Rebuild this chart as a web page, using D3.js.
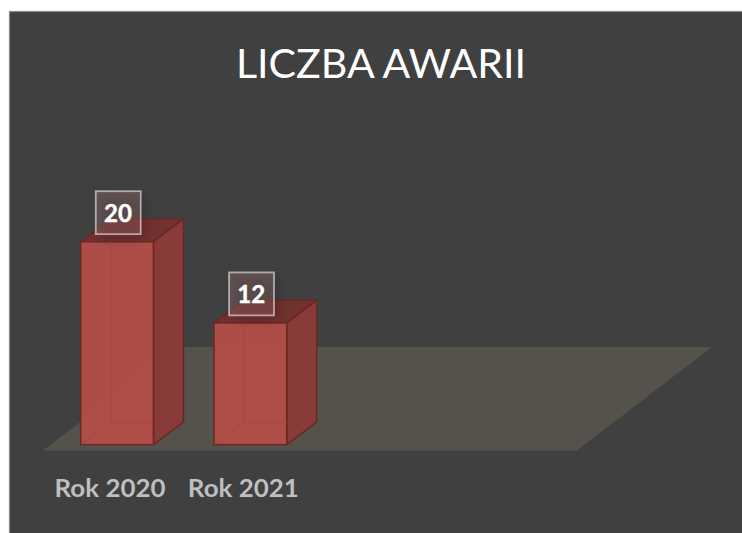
<!DOCTYPE html>
<html><head><meta charset="utf-8">
<script src="https://cdn.jsdelivr.net/npm/d3@7"></script>
<style>html,body{margin:0;padding:0;background:#fff;overflow:hidden}svg{display:block}text{font-family:Lato,"Open Sans",sans-serif}</style>
</head><body><svg id="c" width="742" height="533"></svg>
<script>
const categories = ["Rok 2020", "Rok 2021"];
const awarie = [20, 12];
const chartTitle = "LICZBA AWARII";

const svg = d3.select("#c");
const blur = svg.append("defs").append("filter").attr("id","soft").attr("x","-50%").attr("y","-50%").attr("width","200%").attr("height","200%");
blur.append("feGaussianBlur").attr("stdDeviation",6);

svg.append("rect").attr("x",9.5).attr("y",11.5).attr("width",740).attr("height",530)
  .attr("fill","#404040").attr("stroke","#8c8c8c").attr("stroke-width",1.2);

svg.append("text").attr("x",381).attr("y",77.5).attr("text-anchor","middle")
  .attr("font-size",41.5).attr("fill","#fff").attr("textLength",290).attr("lengthAdjust","spacingAndGlyphs").text(chartTitle);

const x = d3.scaleBand().domain(categories).range([80.7,286.7]).paddingInner(1-72.7/133.3).paddingOuter(0).align(0);
const y = d3.scaleLinear().domain([0,20]).range([444.7,241.7]);
const depthX = 30, depthY = 22.6;

// floor
const floorPts = [[43,450.5],[577,450.5],[712,347],[178,347]];
svg.append("polygon").attr("points",floorPts.join(" ")).attr("fill","#54524a");

const stroke = "#6b2723";
const g = svg.append("g").selectAll("g").data(categories).join("g");
const d = (i)=>({l:x(categories[i]), r:x(categories[i])+x.bandwidth(), t:y(awarie[i]), b:y(0)});

g.each(function(c,i){
  const s = d3.select(this), p = d(i);
  // top
  s.append("polygon").attr("points",[[p.l,p.t],[p.r,p.t],[p.r+depthX,p.t-depthY],[p.l+depthX,p.t-depthY]].join(" "))
    .attr("fill","#703130").attr("stroke",stroke).attr("stroke-width",1.5).attr("stroke-linejoin","round");
  // side
  s.append("polygon").attr("points",[[p.r,p.t],[p.r+depthX,p.t-depthY],[p.r+depthX,p.b-depthY],[p.r,p.b]].join(" "))
    .attr("fill","#8a3b39").attr("fill-opacity",.97).attr("stroke",stroke).attr("stroke-width",1.5).attr("stroke-linejoin","round");
  // front
  s.append("rect").attr("x",p.l).attr("y",p.t).attr("width",p.r-p.l).attr("height",p.b-p.t)
    .attr("fill","#b34e48").attr("fill-opacity",.95).attr("stroke",stroke).attr("stroke-width",1.5);
  // back edges seen through the front
  s.append("path").attr("d",`M${p.l+depthX},${p.t}V${p.b-depthY}H${p.r}M${p.l},${p.b}L${p.l+depthX},${p.b-depthY}`)
    .attr("fill","none").attr("stroke","#a5423d").attr("stroke-opacity",.7).attr("stroke-width",1);
  s.append("path").attr("d",`M${p.r},${p.b-depthY}H${p.r+depthX}`)
    .attr("fill","none").attr("stroke","#813634").attr("stroke-opacity",.7).attr("stroke-width",1);
});

// category axis
const ax = svg.append("g").attr("transform",`translate(-7,${480})`)
  .call(d3.axisBottom(x).tickSize(0).tickPadding(0));
ax.select(".domain").remove();
ax.selectAll("text").attr("font-size",24.5).attr("font-weight",700).attr("fill","#bfbfbf")
  .attr("dy","0.71em").attr("textLength",111).attr("lengthAdjust","spacingAndGlyphs").style("font-family","Lato");

// value labels
categories.forEach((c,i)=>{
  const w = 45, h = 43;
  const cx = x(c)+x.bandwidth()/2+1.2;
  const top = y(awarie[i])-50.5;
  svg.append("rect").attr("x",cx-w/2+3).attr("y",top+4).attr("width",w).attr("height",h)
    .attr("fill","#000").attr("fill-opacity",.22).attr("filter","url(#soft)");
  svg.append("rect").attr("x",cx-w/2).attr("y",top).attr("width",w).attr("height",h)
    .attr("fill","#a04a48").attr("fill-opacity",.18);
  svg.append("rect").attr("x",cx-w/2).attr("y",top).attr("width",w).attr("height",h)
    .attr("fill","#ffffff").attr("fill-opacity",.1).attr("stroke","#ffffff").attr("stroke-opacity",.55).attr("stroke-width",1.8);
  svg.append("text").attr("x",cx-.2).attr("y",top+31).attr("text-anchor","middle").attr("font-size",25.5).attr("font-weight",700)
    .attr("fill","#fff").attr("stroke","#fff").attr("stroke-width",.4).attr("textLength",28).attr("lengthAdjust","spacingAndGlyphs").text(awarie[i]);
});
</script></body></html>
